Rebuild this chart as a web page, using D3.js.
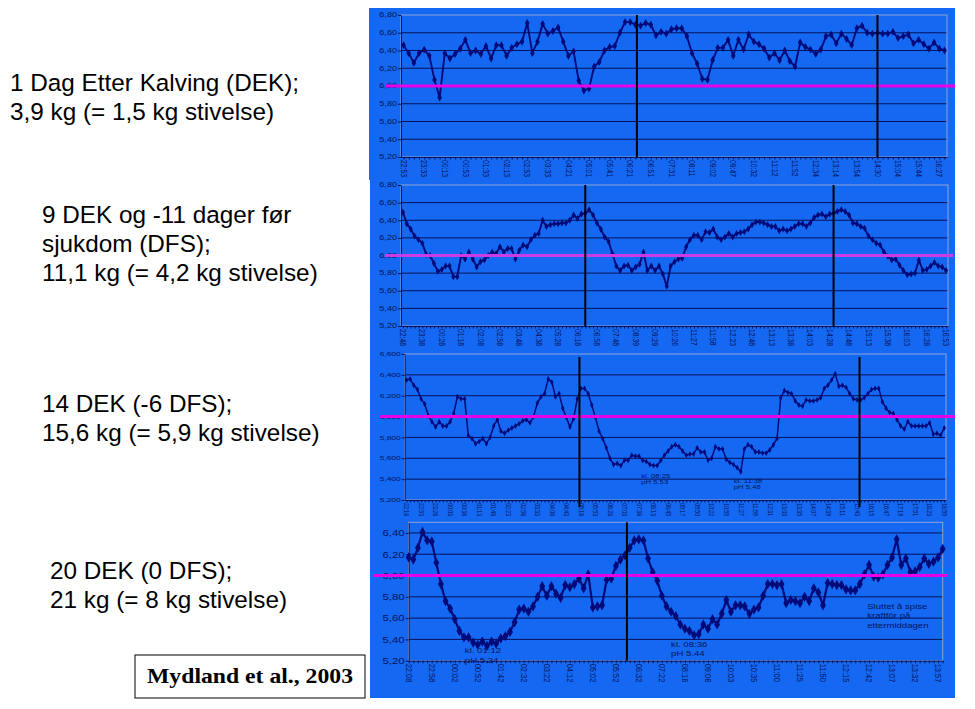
<!DOCTYPE html>
<html><head><meta charset="utf-8">
<script src="https://cdn.jsdelivr.net/npm/d3@7"></script>
<style>body{margin:0;background:#fff}svg{display:block}</style>
</head><body>
<svg id="c" width="975" height="709"></svg>
<script>
// ---------- DATA ----------
const p1Labels = ["22:53","23:33","00:13","00:53","01:33","02:13","02:53","03:33","04:21","05:01","05:41","06:21","06:51","07:31","08:11","09:02","09:47","10:32","11:12","11:52","12:34","13:14","13:54","14:30","15:04","15:44","16:27"];
const p1Values = [6.46,6.37,6.26,6.37,6.41,6.34,6.07,5.87,6.37,6.31,6.36,6.42,6.52,6.37,6.40,6.36,6.45,6.31,6.46,6.46,6.34,6.43,6.47,6.50,6.71,6.37,6.50,6.70,6.59,6.62,6.66,6.50,6.34,6.39,6.06,5.95,5.97,6.22,6.27,6.40,6.44,6.45,6.60,6.72,6.72,6.69,6.68,6.71,6.69,6.57,6.61,6.59,
  6.64,6.65,6.65,6.56,6.37,6.25,6.08,6.07,6.29,6.43,6.43,6.52,6.34,6.52,6.41,6.58,6.50,6.47,6.42,6.32,6.37,6.29,6.40,6.28,6.22,6.49,6.44,6.41,6.36,6.41,6.56,6.58,6.48,6.59,6.53,6.46,6.65,6.68,6.60,6.59,6.60,6.59,6.59,6.61,6.54,6.56,6.58,6.48,6.52,6.47,6.42,6.49,6.42,6.40];
const p1Events = [45.3, 92.0];
const p1YTicks = [5.2,5.4,5.6,5.8,6.0,6.2,6.4,6.6,6.8];

const p2Labels = ["22:48","23:38","00:28","01:18","02:08","02:58","03:48","04:38","05:28","06:18","06:58","07:48","08:39","09:29","10:26","11:27","11:58","12:23","12:48","13:13","13:38","14:03","14:28","14:48","15:13","15:38","16:03","16:28","16:53"];
const p2Values = [6.49,6.36,6.30,6.22,6.18,6.14,6.01,6.00,5.91,5.82,5.84,5.88,5.88,5.76,5.76,6.00,5.96,6.04,5.96,5.87,5.93,5.95,6.00,6.04,6.02,6.10,6.04,6.08,6.08,5.96,6.06,6.12,6.10,6.18,6.23,6.25,6.40,6.33,6.35,6.36,6.36,6.37,6.37,6.40,6.46,6.42,6.47,6.48,6.52,6.46,6.37,6.30,6.21,6.16,6.02,5.88,5.83,5.88,5.89,5.83,5.87,5.90,6.04,5.83,5.88,5.83,5.88,5.79,5.65,
  5.88,5.93,5.96,5.97,6.10,6.18,6.23,6.23,6.18,6.27,6.26,6.30,6.21,6.18,6.21,6.25,6.21,6.25,6.26,6.27,6.30,6.35,6.38,6.38,6.37,6.35,6.33,6.33,6.28,6.30,6.28,6.30,6.33,6.36,6.36,6.33,6.37,6.43,6.46,6.47,6.44,6.47,6.48,6.50,6.52,6.50,6.46,6.37,6.36,6.33,6.31,6.22,6.18,6.14,6.12,6.04,5.99,5.95,5.96,5.89,5.83,5.78,5.79,5.80,5.95,5.83,5.84,5.88,5.92,5.88,5.87,5.83];
const p2Events = [47.0, 111.0];
const p2YTicks = [5.2,5.4,5.6,5.8,6.0,6.2,6.4,6.6,6.8];

const p3Labels = ["22:18","22:53","23:28","00:03","00:38","01:13","01:48","02:23","02:58","03:33","04:08","04:43","05:18","05:53","06:28","07:03","07:38","08:13","08:45","09:17","09:50","10:22","10:55","11:27","11:59","12:31","13:03","13:35","14:07","14:39","15:11","15:43","16:15","16:47","17:19","17:51","18:23","18:55"];
const p3Values = [6.35,6.36,6.30,6.26,6.17,6.12,6.01,5.95,5.90,5.95,5.91,5.91,5.95,6.03,6.19,6.17,6.17,5.82,5.79,5.74,5.76,5.79,5.74,5.80,5.91,5.97,5.86,5.84,5.87,5.89,5.91,5.93,5.96,5.97,5.94,6.00,6.13,6.19,6.22,6.36,6.33,6.19,6.22,6.08,5.99,5.90,5.98,6.17,6.27,6.27,6.22,6.11,5.99,5.86,5.79,5.70,5.60,5.54,5.55,5.53,5.58,5.58,5.63,5.62,5.62,5.58,5.57,5.54,5.53,5.53,5.58,5.63,5.67,
  5.71,5.73,5.71,5.67,5.63,5.64,5.64,5.70,5.66,5.66,5.58,5.60,5.71,5.69,5.69,5.59,5.56,5.54,5.51,5.47,5.69,5.73,5.71,5.66,5.66,5.65,5.65,5.68,5.73,5.79,6.18,6.25,6.23,6.22,6.15,6.11,6.10,6.16,6.15,6.15,6.16,6.18,6.27,6.30,6.35,6.41,6.29,6.30,6.28,6.22,6.17,6.16,6.16,6.18,6.22,6.26,6.27,6.27,6.14,6.08,6.04,6.03,5.97,5.91,5.88,5.95,5.91,5.91,5.91,5.91,5.91,5.94,5.83,5.84,5.82,5.89];
const p3Events = [47.6, 124.7];
const p3YTicks = [5.2,5.4,5.6,5.8,6.0,6.2,6.4,6.6];
const p3Notes = [
  {lines:["kl. 08:25","pH 5.53"], idx:64.6, value:5.41},
  {lines:["kl. 11:38","pH 5.48"], idx:90.1, value:5.36}
];

const p4Labels = ["22:08","22:58","00:02","00:52","01:42","02:32","03:22","04:12","05:02","05:52","06:32","07:22","08:16","09:06","10:03","10:35","11:00","11:25","11:50","12:15","12:42","13:07","13:32","13:57"];
const p4Values = [6.17,6.15,6.26,6.41,6.33,6.32,6.12,5.92,5.76,5.69,5.59,5.48,5.42,5.42,5.37,5.35,5.38,5.34,5.38,5.36,5.41,5.43,5.47,5.56,5.68,5.69,5.66,5.71,5.80,5.90,5.81,5.90,5.83,5.79,5.91,5.89,5.92,5.97,5.88,6.01,5.70,5.71,5.72,5.96,5.97,6.09,6.15,6.19,6.26,6.33,6.34,6.33,6.16,6.03,5.95,5.81,5.71,
  5.66,5.62,5.54,5.50,5.48,5.44,5.45,5.54,5.50,5.59,5.54,5.64,5.77,5.66,5.72,5.72,5.71,5.64,5.68,5.70,5.81,5.92,5.92,5.91,5.92,5.74,5.77,5.76,5.74,5.80,5.76,5.88,5.84,5.72,5.93,5.92,5.91,5.91,5.87,5.86,5.86,5.92,6.01,6.10,5.99,5.98,6.01,6.10,6.17,6.34,6.10,6.16,6.03,6.04,6.08,6.16,6.11,6.13,6.17,6.25];
const p4Events = [47.4];
const p4YTicks = [5.2,5.4,5.6,5.8,6.0,6.2,6.4];
const p4Notes = [
  {lines:["kl. 01:12","pH 5.34"], idx:12.2, value:5.27},
  {lines:["kl. 08:36","pH 5.44"], idx:57.0, value:5.33},
  {lines:["Sluttet å spise","kraftfôr på","ettermiddagen"], idx:99.6, value:5.69}
];

const threshold = 6.0;

const leftBlocks = [
  {x:10, y:91, lines:["1 Dag Etter Kalving (DEK);","3,9 kg (= 1,5 kg stivelse)"]},
  {x:42, y:223, lines:["9 DEK og -11 dager før","sjukdom (DFS);","11,1 kg (= 4,2 kg stivelse)"]},
  {x:42, y:412, lines:["14 DEK (-6 DFS);","15,6 kg (= 5,9 kg stivelse)"]},
  {x:50, y:579, lines:["20 DEK (0 DFS);","21 kg (= 8 kg stivelse)"]}
];
const citation = "Mydland et al., 2003";

// ---------- DRAWING ----------
const BLUE = "#1468f2", GRID = "#06115a", NAVY = "#000a78", TXT = "#07145c", MAG = "#e800e8";
const svg = d3.select("#c");

function stretchText(g, x, y, txt, size, sx, anchor, rot, dy) {
  return g.append("text")
    .attr("transform", `translate(${x},${y}) scale(${sx},1)` + (rot ? ` rotate(${rot})` : ""))
    .attr("text-anchor", anchor).attr("dy", dy || 0)
    .attr("font-family", "Liberation Sans, Arial, sans-serif")
    .attr("font-size", size).attr("fill", TXT).text(txt);
}

function drawPanel(o) {
  const g = svg.append("g");
  g.append("rect").attr("x", o.bg[0]).attr("y", o.bg[1])
    .attr("width", o.bg[2] - o.bg[0]).attr("height", o.bg[3] - o.bg[1]).attr("fill", BLUE);
  const [L, T, R, B] = o.plot;
  const n = o.values.length;
  const x = d3.scaleLinear().domain([-o.pad, n - 1 + o.pad]).range([L, R]);
  const y = d3.scaleLinear().domain(o.yDomain).range([B, T]);

  g.append("g").selectAll("line")
    .data(o.yTicks.filter(v => v > o.yDomain[0] + 1e-9 && v < o.yDomain[1] - 1e-9))
    .join("line").attr("x1", L).attr("x2", R)
    .attr("y1", d => y(d)).attr("y2", d => y(d))
    .attr("stroke", GRID).attr("stroke-width", 1);
  g.append("rect").attr("x", L).attr("y", T).attr("width", R - L).attr("height", B - T)
    .attr("fill", "none").attr("stroke", "#8ea4d8").attr("stroke-width", 1);

  const ya = g.append("g").attr("transform", `translate(${L},0)`)
    .call(d3.axisLeft(y).tickValues(o.yTicks).tickSize(3).tickSizeOuter(0).tickFormat(""));
  ya.selectAll("path,line").attr("stroke", GRID).attr("stroke-width", 1);
  o.yTicks.forEach(v => {
    stretchText(g, L - 4, y(v), o.yFmt(v), o.yFont, o.ySx, "end", 0, "0.35em");
  });

  const xa = g.append("g").attr("transform", `translate(0,${B})`)
    .call(d3.axisBottom(x).tickValues(d3.range(n)).tickSize(2.5).tickSizeOuter(0).tickFormat(""));
  xa.selectAll("path,line").attr("stroke", GRID).attr("stroke-width", 1);
  o.labels.forEach((lab, k) => {
    stretchText(g, x(k * o.every), B + 3, lab, o.xFont, o.xSx, "start", 90, "0.35em");
  });

  const line = d3.line().x((d, i) => x(i)).y(d => y(d));
  g.append("path").datum(o.values).attr("d", line)
    .attr("fill", "none").attr("stroke", NAVY).attr("stroke-width", o.lw).attr("stroke-linejoin", "round");
  g.append("g").selectAll("path").data(o.values).join("path")
    .attr("transform", (d, i) => `translate(${x(i)},${y(d)})`)
    .attr("d", d3.symbol(d3.symbolDiamond, o.ms)).attr("fill", NAVY);

  (o.notes || []).forEach(nt => {
    nt.lines.forEach((ln, j) => {
      stretchText(g, x(nt.idx), y(nt.value) + j * o.noteLh, ln, o.noteFont, o.noteSx, "start", 0, 0);
    });
  });

  g.append("line").attr("x1", o.magX[0]).attr("x2", o.magX[1])
    .attr("y1", y(threshold)).attr("y2", y(threshold))
    .attr("stroke", o.magColor || MAG).attr("stroke-width", 3);

  g.append("g").selectAll("line").data(o.events).join("line")
    .attr("x1", d => x(d)).attr("x2", d => x(d))
    .attr("y1", T + (o.evExt ? o.evExt[0] : 0)).attr("y2", B + (o.evExt ? o.evExt[1] : 0))
    .attr("stroke", "#000").attr("stroke-width", 2);
}

const f2 = v => d3.format(".2f")(v).replace(".", ",");
const f3 = v => d3.format(".3f")(v).replace(".", ",");

drawPanel({bg:[369,8,955,180], plot:[401,15,947,157], values:p1Values, pad:0.5,
  yDomain:[5.2,6.8], yTicks:p1YTicks, yFmt:f2, yFont:6.5, ySx:1.4,
  labels:p1Labels, every:4, xFont:6.8, xSx:1.2, events:p1Events, lw:1.9, ms:18,
  magX:[386,955]});
drawPanel({bg:[370,180,955,348], plot:[401,185,948,326], values:p2Values, pad:0.5,
  yDomain:[5.2,6.8], yTicks:p2YTicks, yFmt:f2, yFont:6.5, ySx:1.4,
  labels:p2Labels, every:5, xFont:6.8, xSx:1.2, events:p2Events, lw:1.9, ms:14,
  magX:[385,953], magColor:"#c93ce6"});
drawPanel({bg:[370,348,955,517], plot:[404.7,354,946,500], values:p3Values, pad:0.5,
  yDomain:[5.2,6.6], yTicks:p3YTicks, yFmt:f3, yFont:6, ySx:1.4,
  labels:p3Labels, every:4, xFont:5.3, xSx:1.2, events:p3Events, evExt:[3,7], lw:1.5, ms:10,
  notes:p3Notes, noteFont:5.5, noteSx:1.4, noteLh:5.5,
  magX:[380,955]});
drawPanel({bg:[370,517,955,698], plot:[408.7,522.3,942.7,660.7], values:p4Values, pad:0,
  yDomain:[5.2,6.5], yTicks:p4YTicks, yFmt:f2, yFont:9.5, ySx:1.2,
  labels:p4Labels, every:5, xFont:7.5, xSx:1.2, events:p4Events, lw:2.2, ms:30,
  notes:p4Notes, noteFont:8, noteSx:1.2, noteLh:9.5,
  magX:[373,947]});

leftBlocks.forEach(b => {
  b.lines.forEach((ln, j) => {
    svg.append("text").attr("x", b.x).attr("y", b.y + j * 29)
      .attr("font-family", "Liberation Sans, Arial, sans-serif").attr("font-size", 24.3)
      .attr("fill", "#000").text(ln);
  });
});
svg.append("rect").attr("x", 135).attr("y", 655).attr("width", 230).attr("height", 43)
  .attr("fill", "#fff").attr("stroke", "#000").attr("stroke-width", 1);
svg.append("text").attr("x", 250).attr("y", 683).attr("text-anchor", "middle")
  .attr("font-family", "Liberation Serif, Times New Roman, serif").attr("font-weight", "bold")
  .attr("font-size", 21).attr("textLength", 206).attr("lengthAdjust", "spacingAndGlyphs")
  .attr("fill", "#000").text(citation);
</script>
</body></html>
